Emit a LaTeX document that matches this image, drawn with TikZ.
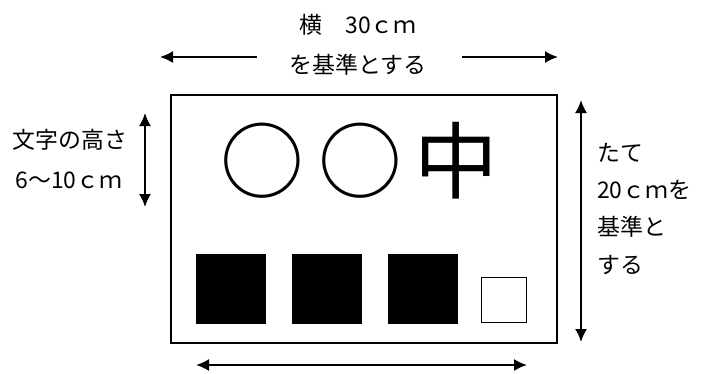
\documentclass[tikz,border=0pt]{standalone}
\usepackage{fontspec}
\setmainfont{Noto Sans CJK JP}
\usepackage{tikz}
\usetikzlibrary{arrows.meta}

\tikzset{
	lbl/.style={inner sep=0pt, font=\fontsize{23}{27}\selectfont},
	big/.style={inner sep=0pt, font=\fontsize{84}{84}\selectfont},
	dim/.style={{Latex[length=13bp,width=12bp]}-{Latex[length=13bp,width=12bp]}, line width=1.8bp},
	oneway/.style={-{Latex[length=13bp,width=12bp]}, line width=1.8bp},
	blk/.style={fill=black, minimum size=70bp, inner sep=0pt},
	wht/.style={draw, line width=1bp, minimum size=45bp, inner sep=0pt}
}

\begin{document}
\begin{tikzpicture}[x=1bp,y=-1bp]
		\useasboundingbox (0,0) rectangle (704,373);
		% board
		\node[draw, line width=1.2bp, minimum width=386bp, minimum height=248bp, inner sep=0pt] (board) at (364,219) {};
		\node[big] (maru1) at (262.5,161) {○};
		\node[big] (maru2) at (360,161) {○};
		\node[big] (naka) at (456,161) {中};
		\node[blk] (sq1) at (231,288.5) {};
		\node[blk] (sq2) at (327,288.5) {};
		\node[blk] (sq3) at (423,288.5) {};
		\node[wht] (sq4) at (503.5,300) {};
		% width
		\node[lbl] (yoko) at (358,25) {横　30ｃｍ};
		\node[lbl] (kijun) at (358,65) {を基準とする};
		\coordinate (wl0) at (257,57);
		\coordinate (wl1) at (160,57);
		\coordinate (wr0) at (462,57);
		\coordinate (wr1) at (558,57);
		\draw[oneway] (wl0) -- (wl1);
		\draw[oneway] (wr0) -- (wr1);
		% letter height
		\node[lbl] (moji) at (70,140) {文字の高さ};
		\node[lbl] (size) at (69,180) {6～10ｃｍ};
		\coordinate (hl0) at (145,113);
		\coordinate (hl1) at (145,207);
		\draw[dim] (hl0) -- (hl1);
		% height
		\coordinate (hr0) at (581,100);
		\coordinate (hr1) at (581,342);
		\draw[dim] (hr0) -- (hr1);
		\node[lbl, anchor=west] (tate) at (597,153) {たて};
		\node[lbl, anchor=west] (tate2) at (597,190) {20ｃｍを};
		\node[lbl, anchor=west] (tate3) at (597,227) {基準と};
		\node[lbl, anchor=west] (tate4) at (597,265) {する};
		% bottom
		\coordinate (bl) at (196,365);
		\coordinate (br) at (527,365);
		\draw[dim] (bl) -- (br);
	\end{tikzpicture}
\end{document}
